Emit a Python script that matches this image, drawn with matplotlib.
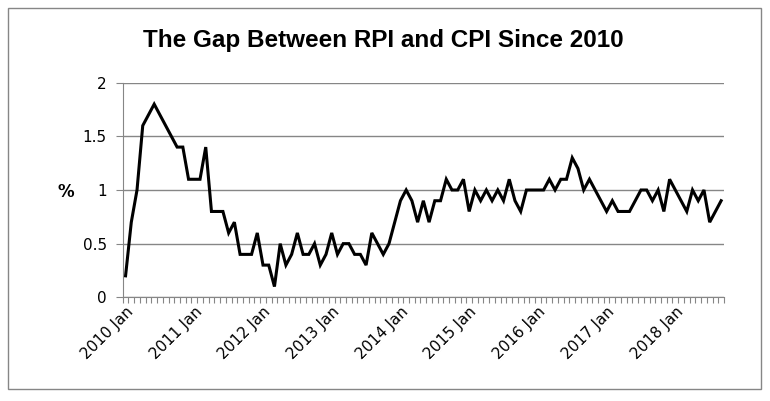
import matplotlib
matplotlib.use("Agg")
import matplotlib.pyplot as plt
from matplotlib.patches import Rectangle
import numpy as np

# Gap between RPI and CPI (percentage points), monthly from 2010 Jan
gap = [
    0.2, 0.7, 1.0, 1.6, 1.7, 1.8, 1.7, 1.6, 1.5, 1.4,
    1.4, 1.1, 1.1, 1.1, 1.4, 0.8, 0.8, 0.8, 0.6, 0.7,
    0.4, 0.4, 0.4, 0.6, 0.3, 0.3, 0.1, 0.5, 0.3, 0.4,
    0.6, 0.4, 0.4, 0.5, 0.3, 0.4, 0.6, 0.4, 0.5, 0.5,
    0.4, 0.4, 0.3, 0.6, 0.5, 0.4, 0.5, 0.7, 0.9, 1.0,
    0.9, 0.7, 0.9, 0.7, 0.9, 0.9, 1.1, 1.0, 1.0, 1.1,
    0.8, 1.0, 0.9, 1.0, 0.9, 1.0, 0.9, 1.1, 0.9, 0.8,
    1.0, 1.0, 1.0, 1.0, 1.1, 1.0, 1.1, 1.1, 1.3, 1.2,
    1.0, 1.1, 1.0, 0.9, 0.8, 0.9, 0.8, 0.8, 0.8, 0.9,
    1.0, 1.0, 0.9, 1.0, 0.8, 1.1, 1.0, 0.9, 0.8, 1.0,
    0.9, 1.0, 0.7, 0.8, 0.9,
]
years = list(range(2010, 2019))
year_labels = [f"{y} Jan" for y in years]
y_ticks = [0, 0.5, 1, 1.5, 2]
y_tick_labels = ["0", "0.5", "1", "1.5", "2"]

W, H = 770, 401
fig = plt.figure(figsize=(W / 100, H / 100), dpi=100)
ax = fig.add_axes([122.7 / W, 1 - 297.3 / H, (724 - 122.7) / W, (297.3 - 82.7) / H])

grey = "#868686"
x = np.arange(len(gap))
ax.plot(x, gap, color="black", linewidth=2.2, solid_joinstyle="miter", zorder=3)

ax.set_xlim(-0.5, len(gap) - 0.5)
ax.set_ylim(0, 2)
ax.set_yticks(y_ticks, y_tick_labels)
ax.yaxis.grid(True, color=grey, linewidth=1)
ax.set_axisbelow(True)

# month tick marks between categories, year labels on the category
ax.set_xticks(np.arange(-0.5, len(gap), 1), [""] * (len(gap) + 1))
ax.set_xticks([12 * i for i in range(len(years))], year_labels, minor=True)
ax.tick_params(axis="x", which="major", length=4, color=grey, direction="out")
ax.tick_params(axis="x", which="minor", length=0, pad=5, labelsize=11)
for lbl in ax.get_xticklabels(minor=True):
    lbl.set_rotation(45)
    lbl.set_ha("right")
    lbl.set_va("top")
    lbl.set_rotation_mode("anchor")
ax.tick_params(axis="y", length=5, color=grey, pad=6.5, labelsize=11)

for side in ["top", "right"]:
    ax.spines[side].set_visible(False)
for side in ["left", "bottom"]:
    ax.spines[side].set_color(grey)

fig.text(383 / W, 1 - 47 / H, "The Gap Between RPI and CPI Since 2010",
         ha="center", va="baseline", fontsize=17.5, fontweight="bold",
         family="Liberation Sans")
fig.text(66 / W, 1 - 192 / H, "%", ha="center", va="center",
         fontsize=12, fontweight="bold")

fig.patches.append(Rectangle((8 / W, 1 - 389 / H), 753 / W, 381 / H,
                             transform=fig.transFigure, fill=False,
                             edgecolor=grey, linewidth=1))

fig.savefig("out.png", dpi=100)
